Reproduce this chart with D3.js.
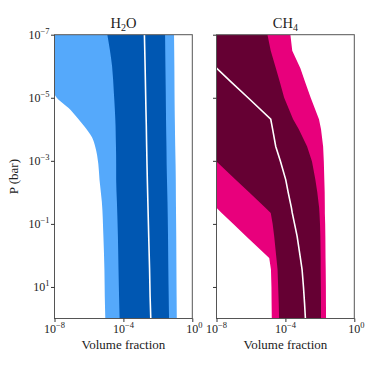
<!DOCTYPE html>
<html><head><meta charset="utf-8">
<script src="https://cdn.jsdelivr.net/npm/d3@7"></script>
<style>body{margin:0;background:#fff}</style>
</head><body><svg id="c" width="374" height="374"></svg>
<script>
// ---- data (pressure in bar, volume fraction) ----
const h2oP        = [1e-7, 1e-6, 7.1e-6, 2.5e-5, 7.9e-5, 1.8e-4, 3.5e-4, 1.26e-3, 4.0e-3, 2.0e-2, 0.25, 2.8, 20, 100];
const h2oOuterLow = [1e-8, 1e-8, 1e-8, 8.9e-8, 5.2e-7, 1.5e-6, 2.3e-6, 3.5e-6, 4.1e-6, 5.6e-6, 6.9e-6, 7.9e-6, 8.3e-6, 8.9e-6];
const h2oInnerLow = [1.17e-5, 2.2e-5, 2.8e-5, 3.2e-5, 3.5e-5, 3.6e-5, 3.7e-5, 3.8e-5, 3.8e-5, 4.2e-5, 4.8e-5, 5.2e-5, 5.6e-5, 6.0e-5];
const h2oMedian   = [1.66e-3, 1.82e-3, 1.95e-3, 2.04e-3, 2.14e-3, 2.19e-3, 2.24e-3, 2.34e-3, 2.45e-3, 2.63e-3, 2.95e-3, 3.31e-3, 3.55e-3, 3.89e-3];
const h2oInnerHigh= [0.0263, 0.0275, 0.0288, 0.0295, 0.0302, 0.0309, 0.0316, 0.0324, 0.0339, 0.0363, 0.0389, 0.0407, 0.0427, 0.0447];
const h2oOuterHigh= [0.087, 0.091, 0.093, 0.095, 0.098, 0.100, 0.102, 0.107, 0.110, 0.112, 0.117, 0.120, 0.123, 0.126];

const ch4P        = [1e-7, 3.2e-7, 1.15e-6, 3.2e-6, 1e-5, 4.8e-5, 1e-4, 3.5e-4, 1.05e-3, 4.0e-3, 0.01, 0.031, 0.045, 0.1, 0.25, 1.2, 2.8, 10, 32, 100];
const ch4OuterLow = [1e-8, 1e-8, 1e-8, 1e-8, 1e-8, 1e-8, 1e-8, 1e-8, 1e-8, 1e-8, 1e-8, 1e-8, 2.0e-8, 9.5e-8, 5.4e-7, 1.15e-5, 1.45e-5, 1.55e-5, 1.58e-5, 1.62e-5];
const ch4InnerLow = [1e-8, 1e-8, 1e-8, 1e-8, 1e-8, 1e-8, 1e-8, 1e-8, 1e-8, 1.3e-7, 7.8e-7, 6.9e-6, 1.41e-5, 1.82e-5, 2.24e-5, 3.0e-5, 3.5e-5, 3.8e-5, 4.1e-5, 4.3e-5];
const ch4Median   = [null, null, 1e-8, 7.2e-8, 6.8e-7, 1.41e-5, 1.82e-5, 2.75e-5, 5.2e-5, 1.05e-4, 1.45e-4, 2.24e-4, 2.5e-4, 3.4e-4, 4.8e-4, 7.4e-4, 9.3e-4, 1.12e-3, 1.29e-3, 1.45e-3];
const ch4InnerHigh= [9.1e-6, 1.41e-5, 2.8e-5, 4.8e-5, 8.5e-5, 2.8e-4, 6.0e-4, 1.82e-3, 3.5e-3, 5.5e-3, 7.1e-3, 9.1e-3, 9.5e-3, 0.0102, 0.0107, 0.0112, 0.0112, 0.0115, 0.0117, 0.0117];
const ch4OuterHigh= [1.95e-4, 2.5e-4, 7.4e-4, 1.41e-3, 2.95e-3, 8.9e-3, 0.0117, 0.0155, 0.0170, 0.0182, 0.0191, 0.0195, 0.0195, 0.0204, 0.0209, 0.0214, 0.0219, 0.0224, 0.0226, 0.0229];

const xTicks = [1e-8, 1e-4, 1];
const yTicks = [1e-7, 1e-5, 1e-3, 1e-1, 1e1];

const panels = [
  {title: ["H", "2", "O"], P: h2oP, oLo: h2oOuterLow, iLo: h2oInnerLow, med: h2oMedian, iHi: h2oInnerHigh, oHi: h2oOuterHigh,
   outer: "#55a9fb", inner: "#0057b2", left: 54.5, yLabels: true, curve: d3.curveMonotoneY},
  {title: ["CH", "4", ""], P: ch4P, oLo: ch4OuterLow, iLo: ch4InnerLow, med: ch4Median, iHi: ch4InnerHigh, oHi: ch4OuterHigh,
   outer: "#e8007c", inner: "#650033", left: 216.5, yLabels: false, curve: d3.curveLinear}
];

const W = 137.8, plotTop = 34.7, plotBottom = 318.5;
const FONT = "'Liberation Serif', 'DejaVu Serif', serif";
const svg = d3.select("#c");
const yS = d3.scaleLog().domain([1e-7, 1e2]).range([plotTop, plotBottom]);

function sup(sel, exp, base) {
  sel.append("tspan").text(base);
  sel.append("tspan").attr("dy", -5).attr("font-size", 8.5).text(exp);
}
function expStr(v) { const e = Math.round(Math.log10(v)); return (e < 0 ? "\u2212" : "") + Math.abs(e); }

panels.forEach((p, k) => {
  const xS = d3.scaleLog().domain([1e-8, 1]).range([p.left, p.left + W]);
  const g = svg.append("g");
  const cid = "clip" + k;
  svg.append("clipPath").attr("id", cid).append("rect")
    .attr("x", p.left).attr("y", plotTop).attr("width", W).attr("height", plotBottom - plotTop);
  const plot = g.append("g").attr("clip-path", `url(#${cid})`);
  const idx = d3.range(p.P.length);
  const band = (lo, hi) => d3.area().curve(p.curve).y(i => yS(p.P[i])).x0(i => xS(lo[i])).x1(i => xS(hi[i]));
  plot.append("path").attr("d", band(p.oLo, p.oHi)(idx)).attr("fill", p.outer);
  plot.append("path").attr("d", band(p.iLo, p.iHi)(idx)).attr("fill", p.inner);
  plot.append("path").attr("d", d3.line().defined(i => p.med[i] != null).y(i => yS(p.P[i])).x(i => xS(p.med[i]))(idx))
    .attr("fill", "none").attr("stroke", "#fff").attr("stroke-width", 1.6);

  // frame
  g.append("rect").attr("x", p.left).attr("y", plotTop).attr("width", W).attr("height", plotBottom - plotTop)
    .attr("fill", "none").attr("stroke", "#555").attr("stroke-width", 1);

  // x axis
  const xa = g.append("g").attr("transform", `translate(0,${plotBottom})`)
    .call(d3.axisBottom(xS).tickValues(xTicks).tickSize(3.5).tickFormat(""));
  xa.select(".domain").remove();
  xa.selectAll("line").attr("stroke", "#333");
  xTicks.forEach(v => {
    const t = g.append("text").attr("x", xS(v) + (v === 1 ? 2 : 0)).attr("y", plotBottom + 14.5)
      .attr("text-anchor", "middle").attr("font-family", FONT).attr("font-size", 12).attr("fill", "#222");
    sup(t, v === 1 ? "0" : expStr(v), "10");
  });
  g.append("text").attr("x", p.left + W / 2).attr("y", plotBottom + 30).attr("text-anchor", "middle")
    .attr("font-family", FONT).attr("font-size", 13).attr("fill", "#222").text("Volume fraction");

  // y axis
  const ya = g.append("g").attr("transform", `translate(${p.left},0)`)
    .call(d3.axisLeft(yS).tickValues(yTicks).tickSize(3.5).tickFormat(""));
  ya.select(".domain").remove();
  ya.selectAll("line").attr("stroke", "#333");
  if (p.yLabels) {
    yTicks.forEach(v => {
      const t = g.append("text").attr("x", p.left - 5).attr("y", yS(v) + 4.5)
        .attr("text-anchor", "end").attr("font-family", FONT).attr("font-size", 12).attr("fill", "#222");
      sup(t, expStr(v), "10");
    });
  }

  // title
  const tt = g.append("text").attr("x", p.left + W / 2).attr("y", 28).attr("text-anchor", "middle")
    .attr("font-family", FONT).attr("font-size", 14.5).attr("fill", "#222");
  tt.append("tspan").text(p.title[0]);
  tt.append("tspan").attr("dy", 3).attr("font-size", 10).text(p.title[1]);
  if (p.title[2]) tt.append("tspan").attr("dy", -3).text(p.title[2]);
});

svg.append("text").attr("transform", `translate(18,${(plotTop + plotBottom) / 2}) rotate(-90)`)
  .attr("text-anchor", "middle").attr("font-family", FONT).attr("font-size", 13).attr("fill", "#222").text("P (bar)");
</script>
</body></html>
